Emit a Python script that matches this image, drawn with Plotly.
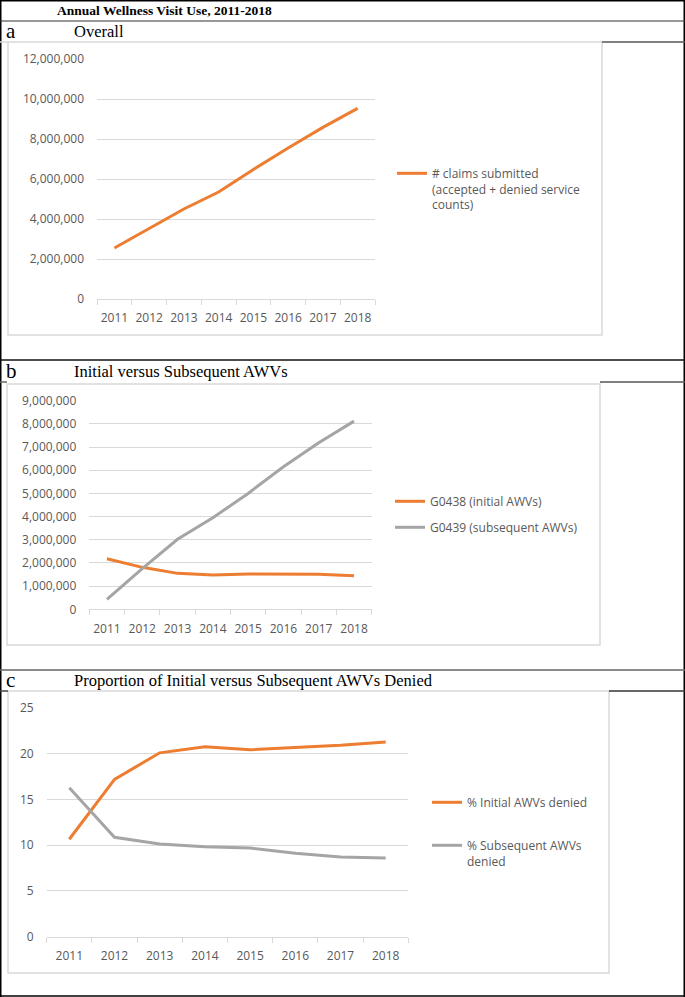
import plotly.graph_objects as go

# ---------------- data ----------------
years = ["2011", "2012", "2013", "2014", "2015", "2016", "2017", "2018"]
claims_submitted = [2550000, 3530000, 4500000, 5350000, 6480000, 7550000, 8580000, 9530000]
g0438_initial = [2180000, 1810000, 1550000, 1480000, 1520000, 1510000, 1510000, 1450000]
g0439_subsequent = [430000, 1750000, 3020000, 3950000, 5000000, 6150000, 7190000, 8120000]
pct_initial_denied = [10.65, 17.2, 20.1, 20.77, 20.44, 20.7, 20.92, 21.28]
pct_subsequent_denied = [16.28, 10.86, 10.13, 9.84, 9.7, 9.11, 8.71, 8.6]

main_title = "Annual Wellness Visit Use, 2011-2018"
panel_letters = ["a", "b", "c"]
panel_titles = ["Overall", "Initial versus Subsequent AWVs",
                "Proportion of Initial versus Subsequent AWVs Denied"]
name_claims = "# claims submitted<br>(accepted + denied service<br>counts)"
name_g0438 = "G0438 (initial AWVs)"
name_g0439 = "G0439 (subsequent AWVs)"
name_pct_init = "% Initial AWVs denied"
name_pct_sub = "% Subsequent AWVs<br>denied"

# ---------------- layout helpers ----------------
W, H = 685, 997
ORANGE = "#ED7D31"
GRAY = "#A5A5A5"
GRID = "#D9D9D9"
TXT = "#595959"
TICKFONT = dict(family="Open Sans", size=12, color=TXT)


def X(p):
    return p / W


def Y(p):
    return 1 - p / H


fig = go.Figure()

fig.add_trace(go.Scatter(x=years, y=claims_submitted, name=name_claims, mode="lines",
                         line=dict(color=ORANGE, width=3), xaxis="x", yaxis="y",
                         legend="legend"))
fig.add_trace(go.Scatter(x=years, y=g0438_initial, name=name_g0438, mode="lines",
                         line=dict(color=ORANGE, width=3), xaxis="x2", yaxis="y2",
                         legend="legend2", legendgroup="b1"))
fig.add_trace(go.Scatter(x=years, y=g0439_subsequent, name=name_g0439, mode="lines",
                         line=dict(color=GRAY, width=3), xaxis="x2", yaxis="y2",
                         legend="legend2", legendgroup="b2"))
fig.add_trace(go.Scatter(x=years, y=pct_initial_denied, name=name_pct_init, mode="lines",
                         line=dict(color=ORANGE, width=3), xaxis="x3", yaxis="y3",
                         legend="legend3", legendgroup="c1"))
fig.add_trace(go.Scatter(x=years, y=pct_subsequent_denied, name=name_pct_sub, mode="lines",
                         line=dict(color=GRAY, width=3), xaxis="x3", yaxis="y3",
                         legend="legend3", legendgroup="c2"))


def xax(x0, x1, anchor):
    return dict(domain=[X(x0), X(x1)], anchor=anchor, type="category",
                range=[-0.5, len(years) - 0.5], showgrid=False, zeroline=False,
                showline=True, linecolor=GRID, linewidth=1, automargin=False,
                ticks="outside", tickson="boundaries", ticklen=5, tickcolor=GRID,
                tickangle=0, tickfont=TICKFONT, ticklabelstandoff=8, fixedrange=True)


def yax(y_top, y_bot, anchor, rng, dtick, fmt):
    return dict(domain=[Y(y_bot), Y(y_top)], anchor=anchor, range=rng, dtick=dtick,
                tickformat=fmt, showgrid=True, gridcolor=GRID, gridwidth=1,
                zeroline=False, showline=False, ticks="", tickfont=TICKFONT,
                automargin=False, ticklabelstandoff=12, fixedrange=True)


legend_common = dict(bgcolor="rgba(0,0,0,0)", font=dict(family="Open Sans", size=12, color=TXT),
                     xanchor="left", yanchor="top", valign="top", itemclick=False,
                     itemdoubleclick=False)

fig.update_layout(
    width=W, height=H, margin=dict(l=0, r=0, t=0, b=0, pad=0, autoexpand=False),
    paper_bgcolor="white", plot_bgcolor="white", showlegend=True,
    xaxis=xax(97, 375, "y"),
    yaxis=yax(59, 299, "x", [0, 12000000], 2000000, ","),
    xaxis2=xax(89.3, 371.7, "y2"),
    yaxis2=yax(400.7, 609.3, "x2", [0, 9000000], 1000000, ","),
    xaxis3=xax(46.7, 408.3, "y3"),
    yaxis3=yax(708, 936.7, "x3", [0, 25], 5, "d"),
    legend=dict(x=X(392), y=Y(159), **legend_common),
    legend2=dict(x=X(390), y=Y(487), tracegroupgap=7, **legend_common),
    legend3=dict(x=X(427), y=Y(788), tracegroupgap=24, **legend_common),
)

shapes = []


def line(x0, y0, x1, y1, color, width=1):
    shapes.append(dict(type="line", xref="paper", yref="paper",
                       x0=X(x0), y0=Y(y0), x1=X(x1), y1=Y(y1),
                       line=dict(color=color, width=width), layer="above"))


def rect(x0, y0, x1, y1, color, width=1.5):
    shapes.append(dict(type="rect", xref="paper", yref="paper",
                       x0=X(x0), y0=Y(y0), x1=X(x1), y1=Y(y1),
                       line=dict(color=color, width=width), fillcolor="rgba(0,0,0,0)",
                       layer="below"))


# outer border
line(0.5, 0.75, 684.5, 0.75, "#000000", 1.5)
line(0.5, 996, 684.5, 996, "#000000", 1.5)
line(0.75, 0, 0.75, 997, "#000000", 1.5)
line(684.25, 0, 684.25, 997, "#000000", 1.5)
# row separators
line(0, 21, 685, 21, "#333333", 1.2)
line(602, 42, 685, 42, "#555555", 1.5)
line(0, 360, 685, 360, "#111111", 1.5)
line(600, 382, 685, 382, "#555555", 1.5)
line(0, 670, 685, 670, "#666666", 1.5)
line(609, 691, 685, 691, "#333333", 1.5)
# chart frames
rect(8, 42, 602, 335, "#D9D9D9")
rect(7, 384, 600, 645, "#D9D9D9")
rect(8, 691, 609, 973, "#D9D9D9")
line(0, 42, 8, 42, "#D9D9D9", 1.5)
line(0, 382, 7, 382, "#666666", 1.5)
line(0, 691, 8, 691, "#444444", 1.5)

annotations = []


def text(x, y, s, size, bold=False, anchor="left"):
    annotations.append(dict(xref="paper", yref="paper", x=X(x), y=Y(y), text=s,
                            showarrow=False, xanchor=anchor, yanchor="middle",
                            font=dict(family="Liberation Serif", size=size, color="#000000",
                                      weight="bold" if bold else "normal")))


text(55, 11, main_title, 13.5, bold=True)
row_mid = [31, 371, 680]
for letter, title, ym in zip(panel_letters, panel_titles, row_mid):
    text(4, ym, letter, 21)
    text(72, ym, title, 16.5)

fig.update_layout(shapes=shapes, annotations=annotations)

post = (
    "document.documentElement.style.margin='0';"
    "document.documentElement.style.overflow='hidden';"
    "document.body.style.margin='0';document.body.style.padding='0';"
    "document.body.style.overflow='hidden';"
    "var gd=document.getElementById('{plot_id}');"
    "gd.style.position='fixed';gd.style.top='0px';gd.style.left='0px';"
)

fig.write_html("out.html", post_script=post, config={"displayModeBar": False})
